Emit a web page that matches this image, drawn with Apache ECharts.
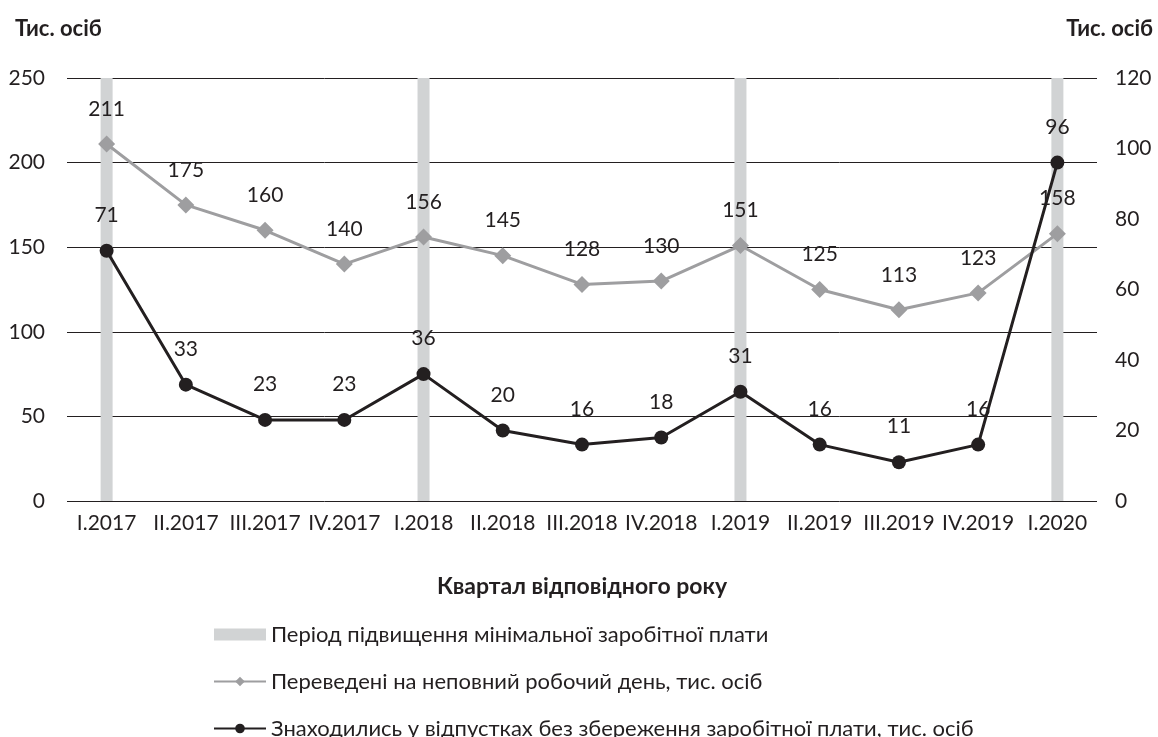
<!DOCTYPE html>
<html>
<head>
<meta charset="utf-8">
<script src="https://cdn.jsdelivr.net/npm/echarts@6/dist/echarts.min.js"></script>
<style>
html,body{margin:0;padding:0;background:#fff;}
#chart{width:1158px;height:737px;}
</style>
</head>
<body>
<div id="chart"></div>
<script>
var quarters = ['I.2017','II.2017','III.2017','IV.2017','I.2018','II.2018','III.2018','IV.2018','I.2019','II.2019','III.2019','IV.2019','I.2020'];
// періоди підвищення мінімальної зарплати (повна висота шкали)
var wagePeriods = [250, null, null, null, 250, null, null, null, 250, null, null, null, 250];
var partTime = [211, 175, 160, 140, 156, 145, 128, 130, 151, 125, 113, 123, 158];
var unpaidLeave = [71, 33, 23, 23, 36, 20, 16, 18, 31, 16, 11, 16, 96];

var font = 'Lato';
var txt = '#231f20';
var fs = 21;

var chart = echarts.init(document.getElementById('chart'));
var option = {
    animation: false,
    textStyle: { fontFamily: font },
    grid: { left: 67, right: 61, top: 78, bottom: 236 },
    legend: {
        orient: 'vertical',
        left: 208,
        top: 617,
        height: 140,
        itemGap: 22,
        itemWidth: 52,
        itemHeight: 12,
        textStyle: { fontSize: 22, color: txt, fontFamily: font, lineHeight: 25 },
        data: [
            { name: 'Період підвищення мінімальної заробітної плати', icon: 'rect' },
            { name: 'Переведені на неповний робочий день, тис. осіб' },
            { name: 'Знаходились у відпустках без збереження заробітної плати, тис. осіб' }
        ]
    },
    xAxis: {
        type: 'category',
        data: quarters,
        axisTick: { show: false },
        axisLine: { show: false },
        axisLabel: { fontSize: fs, color: txt, margin: 12, interval: 0 },
        name: 'Квартал відповідного року',
        nameLocation: 'middle',
        nameGap: 74,
        nameTextStyle: { fontSize: 23, fontWeight: 'bold', color: txt }
    },
    yAxis: [
        {
            type: 'value', min: 0, max: 250, interval: 50,
            name: 'Тис. осіб',
            nameGap: 0,
            nameTextStyle: { fontSize: 22, fontWeight: 'bold', color: txt, align: 'left', padding: [0, 0, 38, -52] },
            axisLabel: { fontSize: fs, color: txt, margin: 22 },
            axisLine: { show: false },
            axisTick: { show: false },
            splitLine: { lineStyle: { color: '#231f20', width: 1 } }
        },
        {
            type: 'value', min: 0, max: 120, interval: 20,
            name: 'Тис. осіб',
            nameGap: 0,
            nameTextStyle: { fontSize: 22, fontWeight: 'bold', color: txt, align: 'right', padding: [0, -56, 38, 0] },
            axisLabel: { fontSize: fs, color: txt, margin: 18 },
            axisLine: { show: false },
            axisTick: { show: false },
            splitLine: { show: false }
        }
    ],
    series: [
        {
            name: 'Період підвищення мінімальної заробітної плати',
            type: 'bar',
            yAxisIndex: 0,
            data: wagePeriods,
            barWidth: 12,
            itemStyle: { color: '#d1d3d4' },
            z: 1
        },
        {
            name: 'Переведені на неповний робочий день, тис. осіб',
            type: 'line',
            yAxisIndex: 0,
            data: partTime,
            symbol: 'diamond',
            symbolSize: 17,
            lineStyle: { color: '#9e9ea0', width: 3 },
            itemStyle: { color: '#9e9ea0' },
            label: { show: true, position: 'top', distance: 16, fontSize: fs, color: txt },
            z: 3
        },
        {
            name: 'Знаходились у відпустках без збереження заробітної плати, тис. осіб',
            type: 'line',
            yAxisIndex: 1,
            data: unpaidLeave,
            symbol: 'circle',
            symbolSize: 14,
            lineStyle: { color: '#231f20', width: 3 },
            itemStyle: { color: '#231f20' },
            label: { show: true, position: 'top', distance: 18, fontSize: fs, color: txt },
            z: 4
        }
    ]
};
chart.setOption(option);
window.onresize = chart.resize;
</script>
</body>
</html>
